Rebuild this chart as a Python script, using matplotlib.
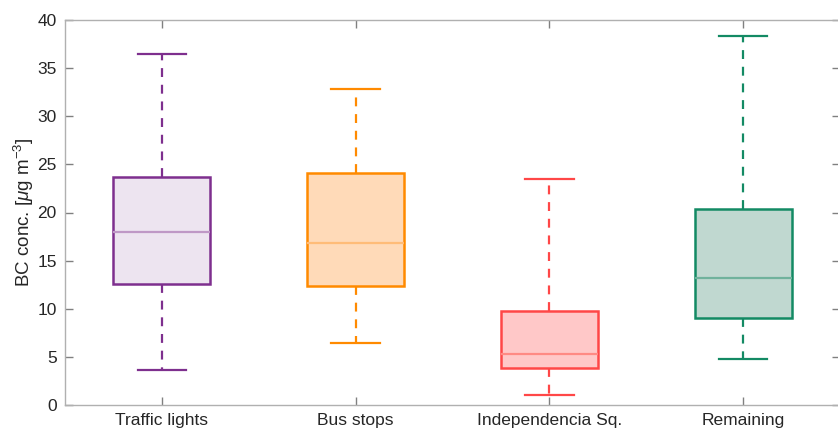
import matplotlib
matplotlib.use("Agg")
import matplotlib.pyplot as plt

plt.rcParams['font.family'] = ['Liberation Sans', 'DejaVu Sans']
plt.rcParams['mathtext.fontset'] = 'custom'
plt.rcParams['mathtext.rm'] = 'Liberation Sans'
plt.rcParams['mathtext.it'] = 'Liberation Sans:italic'

# box statistics (BC conc., ug m-3)
sites = ['Traffic lights', 'Bus stops', 'Independencia Sq.', 'Remaining']
whislo = [3.6, 6.4, 1.0, 4.8]
q1 = [12.6, 12.4, 3.8, 9.0]
med = [18.0, 16.8, 5.3, 13.2]
q3 = [23.7, 24.1, 9.8, 20.4]
whishi = [36.5, 32.8, 23.5, 38.3]

edge_cols = ['#7E2F8E', '#FF8A00', '#FF4747', '#138A64']
fill_cols = ['#EDE4F0', '#FFDAB8', '#FFC8C8', '#C0D8D0']
med_cols = ['#BF98C6', '#FFBC78', '#FF8A84', '#70B29C']

fig = plt.figure(figsize=(8.38, 4.34), dpi=100)
ax = fig.add_axes([65/838, 29/434, 775/838, 385/434])

stats = []
for i in range(len(sites)):
    stats.append(dict(label=sites[i], whislo=whislo[i], q1=q1[i], med=med[i],
                      q3=q3[i], whishi=whishi[i], fliers=[]))

bp = ax.bxp(stats, positions=range(1, 5), widths=0.5, patch_artist=True,
            capwidths=0.25, showfliers=False)

for i, c in enumerate(edge_cols):
    bp['boxes'][i].set(facecolor=fill_cols[i], edgecolor=c, linewidth=1.8, zorder=3)
    bp['medians'][i].set(color=med_cols[i], linewidth=1.6, zorder=4)
    for w in bp['whiskers'][2*i:2*i+2]:
        w.set(color=c, linestyle=(0, (4, 3.5)), linewidth=1.6)
    for cp in bp['caps'][2*i:2*i+2]:
        cp.set(color=c, linewidth=1.6)

ax.set_xlim(0.5, 4.5)
ax.set_ylim(0, 40)
ax.set_yticks(range(0, 41, 5))
ax.set_xticks(range(1, 5))
ax.set_xticklabels(sites)
ax.set_ylabel(r'BC conc. [$\mu$g m$^{-3}$]', fontsize=13.5, color='#262626',
              labelpad=1)

for s in ax.spines.values():
    s.set_color('#B0B0B0')
    s.set_linewidth(1.0)
ax.tick_params(direction='in', top=True, right=True, length=6, width=1,
               color='#808080', labelsize=12.5, labelcolor='#262626', pad=6)

fig.savefig('out.png', dpi=100)
